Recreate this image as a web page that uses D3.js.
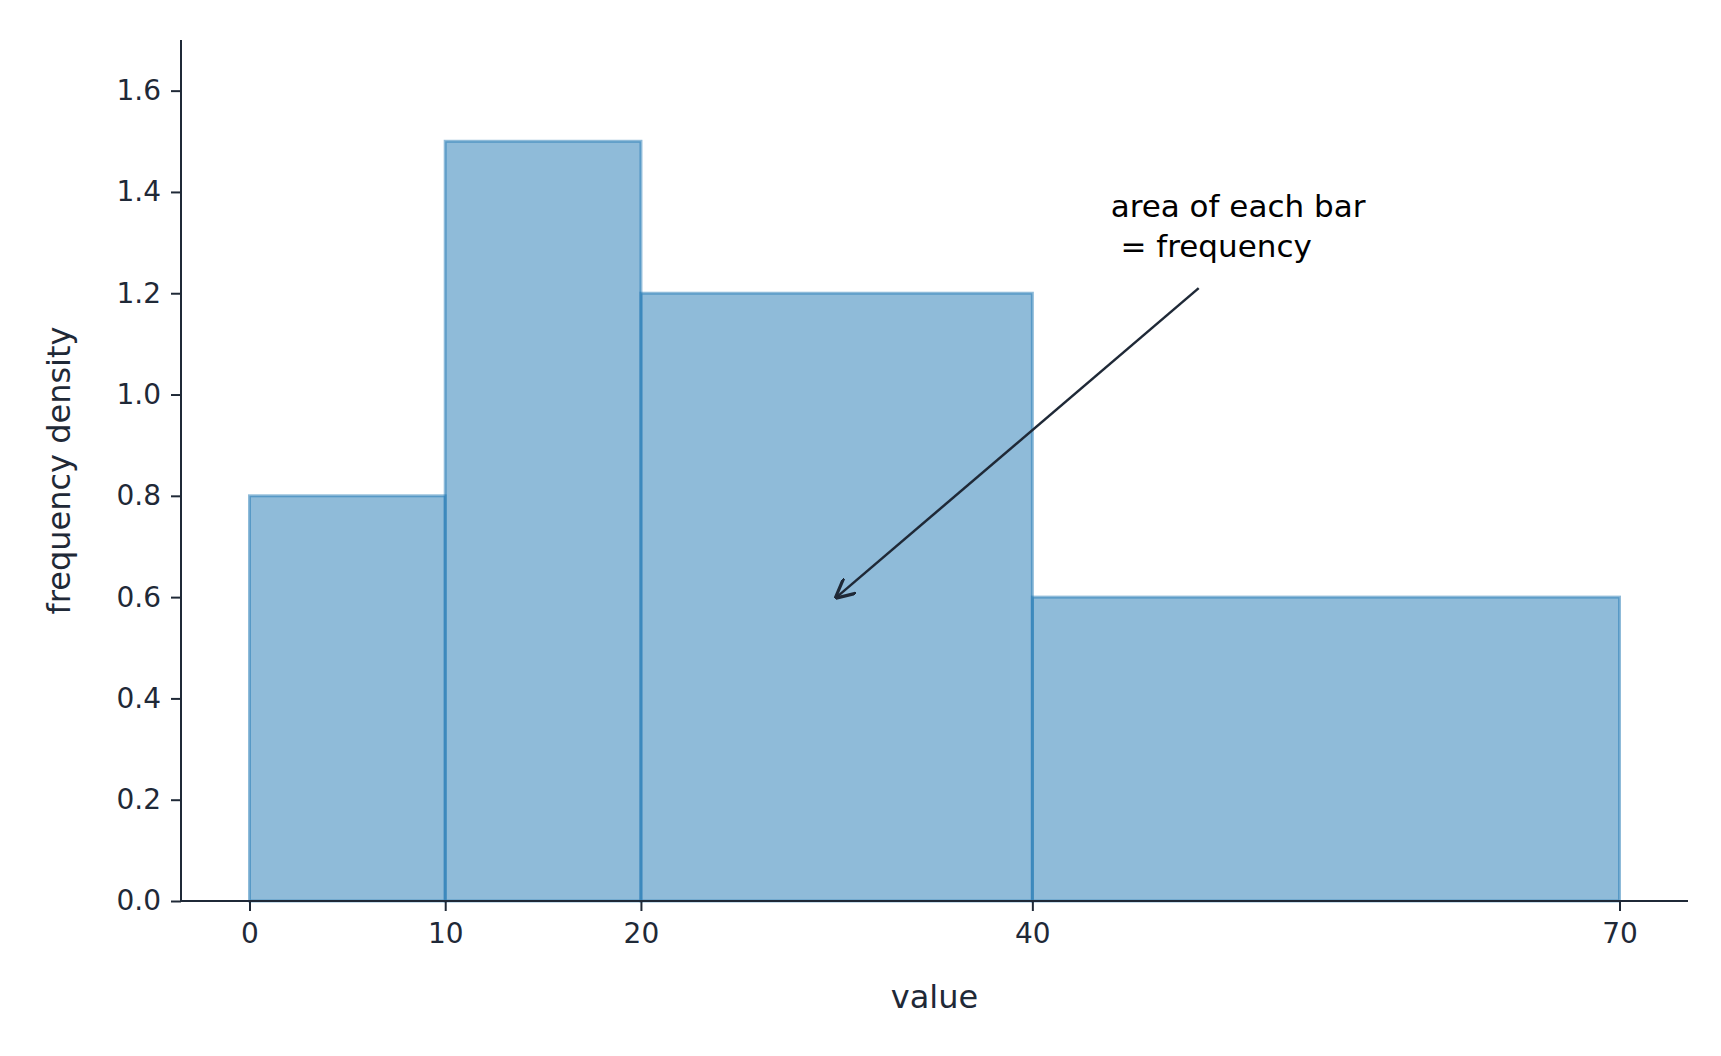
<!DOCTYPE html>
<html><head><meta charset="utf-8">
<script src="https://cdn.jsdelivr.net/npm/d3@7"></script>
<style>body{margin:0;background:#fff;font-family:"DejaVu Sans",sans-serif;}</style>
</head><body>
<svg id="chart" width="1721" height="1056"></svg>
<script>
const binEdges = [0, 10, 20, 40, 70];
const densities = [0.8, 1.5, 1.2, 0.6];
const yTicks = [0, 0.2, 0.4, 0.6, 0.8, 1.0, 1.2, 1.4, 1.6];

const ink = "#1f2937";
const svg = d3.select("#chart");
const mLeft = 181, mRight = 1688, mTop = 40, mBottom = 901;

const x = d3.scaleLinear().domain([-3.5, 73.5]).range([mLeft, mRight]);
const y = d3.scaleLinear().domain([0, 1.7]).range([mBottom, mTop]);

const bins = densities.map((d, i) => ({x0: binEdges[i], x1: binEdges[i + 1], d}));

svg.append("g").selectAll("rect").data(bins).enter().append("rect")
    .attr("x", d => x(d.x0))
    .attr("y", d => y(d.d))
    .attr("width", d => x(d.x1) - x(d.x0))
    .attr("height", d => y(0) - y(d.d))
    .attr("fill", "rgba(31,119,180,0.5)")
    .attr("stroke", "rgba(31,119,180,0.5)")
    .attr("stroke-width", 3);

const xAxis = svg.append("g").attr("transform", `translate(0,${mBottom})`)
    .call(d3.axisBottom(x).tickValues(binEdges).tickSize(10).tickPadding(12));
const yAxis = svg.append("g").attr("transform", `translate(${mLeft},0)`)
    .call(d3.axisLeft(y).tickValues(yTicks).tickFormat(d3.format(".1f")).tickSize(10).tickPadding(10));
[xAxis, yAxis].forEach(a => {
    a.selectAll("path, line").attr("stroke", ink).attr("stroke-width", 2);
    a.selectAll("text").attr("fill", ink).style("font-size", "28px").style("font-family", "DejaVu Sans");
});
xAxis.select(".domain").attr("d", `M${mLeft},0H${mRight}`);
yAxis.select(".domain").attr("d", `M0,${mTop}V${mBottom}`);

svg.append("text").attr("x", (mLeft + mRight) / 2).attr("y", 1008)
    .attr("text-anchor", "middle").attr("fill", ink).style("font-size", "32px").text("value");
svg.append("text").attr("transform", `translate(70,${(mTop + mBottom) / 2}) rotate(-90)`)
    .attr("text-anchor", "middle").attr("fill", ink).style("font-size", "32px").text("frequency density");

// annotation
svg.append("defs").append("marker").attr("id", "arr")
    .attr("viewBox", "0 0 10 10").attr("refX", 9).attr("refY", 5)
    .attr("markerWidth", 8).attr("markerHeight", 8).attr("orient", "auto")
    .append("path").attr("d", "M0,0L10,5L0,10").attr("fill", "none").attr("stroke", ink).attr("stroke-width", 1.6);
svg.append("line")
    .attr("x1", x(48.5)).attr("y1", y(1.21))
    .attr("x2", x(30)).attr("y2", y(0.6))
    .attr("stroke", ink).attr("stroke-width", 2.5).attr("marker-end", "url(#arr)");
const t = svg.append("text").attr("x", x(44)).attr("y", y(1.35)).attr("fill", "#000").style("font-size", "31px");
t.append("tspan").attr("x", x(44)).text("area of each bar");
t.append("tspan").attr("x", x(44)).attr("dy", 40).text(" =  frequency");
</script>
</body></html>
